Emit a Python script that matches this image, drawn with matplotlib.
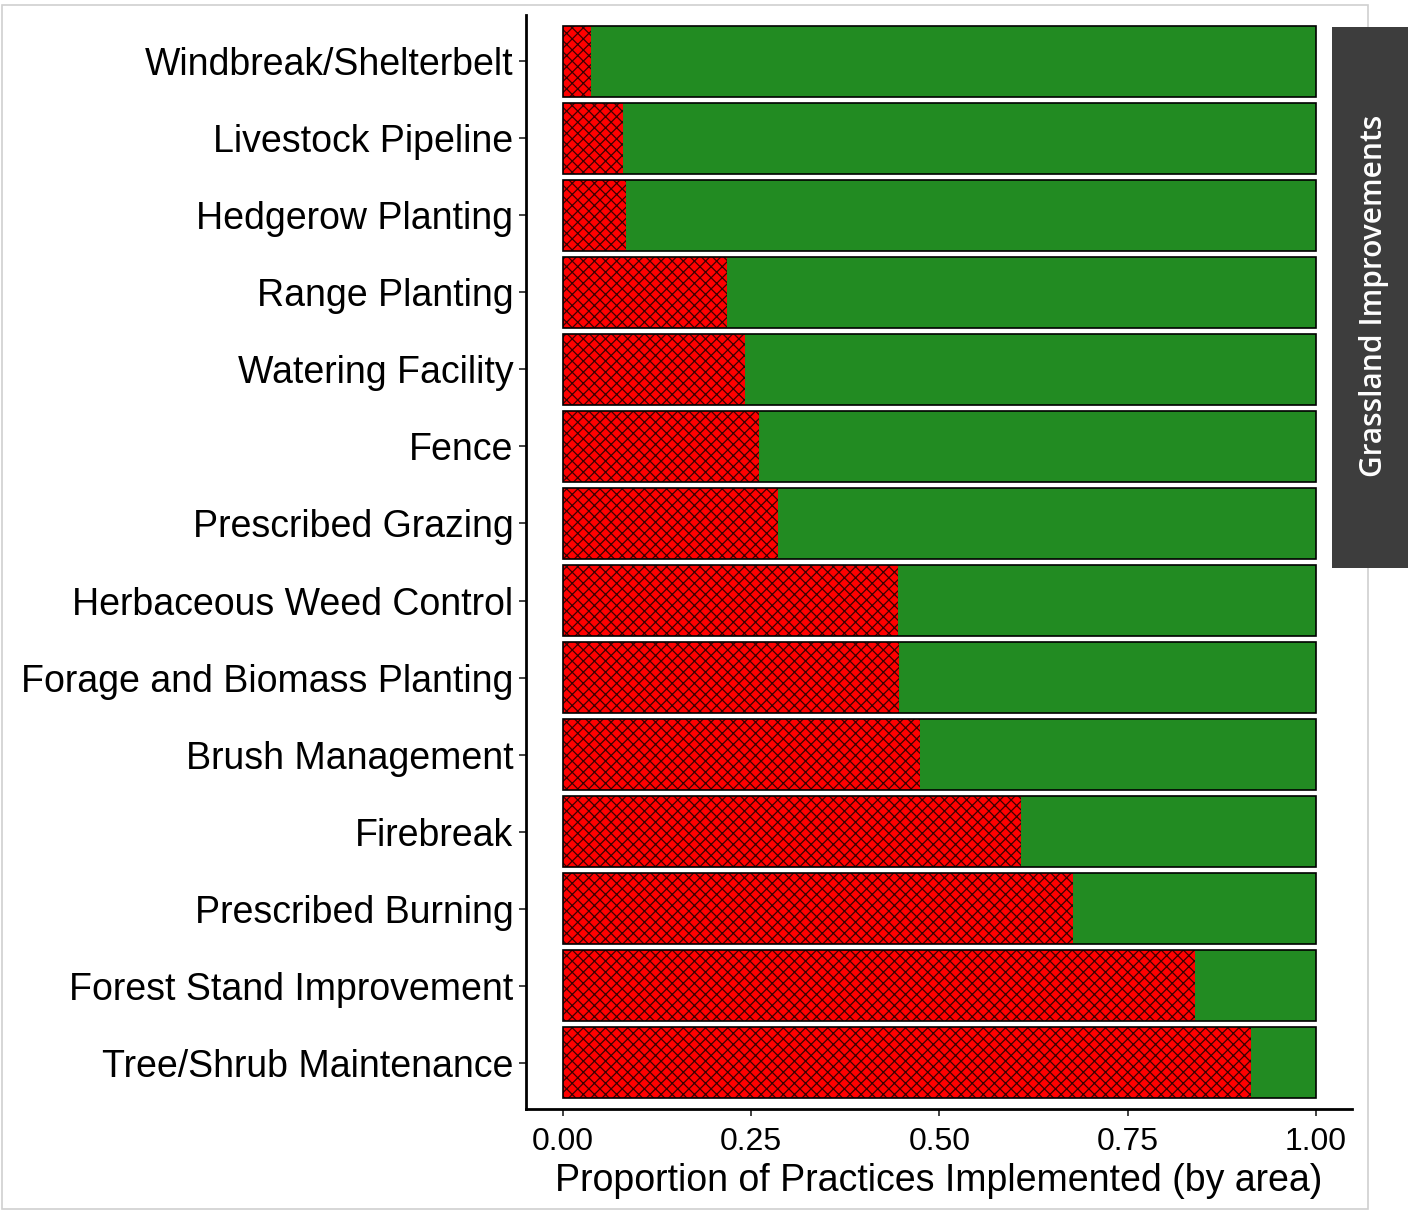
import numpy as np
import matplotlib
matplotlib.use("Agg")
from matplotlib import pyplot as plt
from matplotlib.patches import Rectangle

practices = [
	"Windbreak/Shelterbelt",
	"Livestock Pipeline",
	"Hedgerow Planting",
	"Range Planting",
	"Watering Facility",
	"Fence",
	"Prescribed Grazing",
	"Herbaceous Weed Control",
	"Forage and Biomass Planting",
	"Brush Management",
	"Firebreak",
	"Prescribed Burning",
	"Forest Stand Improvement",
	"Tree/Shrub Maintenance",
]
not_implemented = [0.037, 0.080, 0.084, 0.218, 0.242, 0.261, 0.286,
	0.445, 0.447, 0.474, 0.609, 0.677, 0.840, 0.914]
implemented = [1 - v for v in not_implemented]
facet_label = "Grassland Improvements"
x_ticks = [0.0, 0.25, 0.5, 0.75, 1.0]
x_tick_labels = ["0.00", "0.25", "0.50", "0.75", "1.00"]
x_title = "Proportion of Practices Implemented (by area)"

plt.rcParams['font.family'] = ['Liberation Sans', 'DejaVu Sans']
plt.rcParams['hatch.linewidth'] = 0.9

W, H = 1408, 1211
fig = plt.figure(figsize=(W / 100, H / 100), dpi=100)

# light frame around the panel
fig.add_artist(Rectangle((2 / W, 2 / H), 1366 / W, 1204 / H, transform=fig.transFigure,
	fill=False, edgecolor="#d0d0d0", linewidth=1.2))

ax = fig.add_axes([526 / W, 1 - 1109 / H, (1352 - 526) / W, (1109 - 15) / H])
y = np.arange(len(practices))
bh = 0.92

ax.barh(y, not_implemented, height=bh, color="#FF0000", edgecolor="#3a0000",
	linewidth=0, hatch="xxx")
ax.barh(y, implemented, left=not_implemented, height=bh, color="#228B22", linewidth=0)
ax.barh(y, [1] * len(y), height=bh, fill=False, edgecolor="black", linewidth=1.2)

ax.set_ylim(len(practices) - 0.4, -0.6)
ax.set_xlim(-0.049, 1.048)
ax.set_yticks(y)
ax.set_yticklabels(practices, fontsize=27)
ax.set_xticks(x_ticks)
ax.set_xticklabels(x_tick_labels, fontsize=23)
ax.tick_params(axis='both', length=5, width=1.3, color="#333333", pad=4)
ax.tick_params(axis='x', pad=8)
ax.set_xlabel(x_title, fontsize=27, labelpad=4)

for s in ["top", "right"]:
	ax.spines[s].set_visible(False)
for s in ["left", "bottom"]:
	ax.spines[s].set_linewidth(2)

# facet strip on the right
fig.add_artist(Rectangle((1332 / W, 1 - 568 / H), 80 / W, (568 - 27) / H,
	transform=fig.transFigure, facecolor="#3d3d3d", edgecolor="none"))
fig.text(1374 / W, 1 - 296 / H, facet_label, rotation=90, color="white",
	ha="center", va="center", fontsize=21.5, fontweight="semibold",
	family=["Open Sans", "DejaVu Sans"])

fig.savefig("out.png", dpi=100)
